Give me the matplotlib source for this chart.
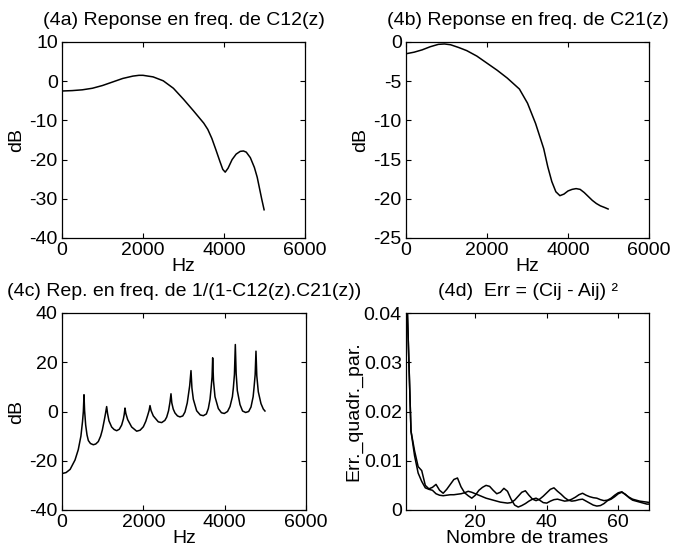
import matplotlib
matplotlib.use("Agg")
import matplotlib.pyplot as plt
import numpy as np

plt.rcParams['font.family'] = ['Liberation Sans', 'DejaVu Sans']
plt.rcParams['font.size'] = 14
plt.rcParams['axes.unicode_minus'] = False

# (4a) reponse en freq. de C12(z)
freq_a = [0, 250, 500, 750, 1000, 1250, 1500, 1750, 1900, 2000, 2250, 2500, 2750,
          3000, 3250, 3500, 3600, 3700, 3800, 3900, 3970, 4030, 4100, 4200, 4300,
          4400, 4480, 4550, 4650, 4750, 4820, 4880, 4930, 4990]
db_a = [-2.5, -2.4, -2.2, -1.8, -1.1, -0.2, 0.7, 1.3, 1.5, 1.5, 1.1, 0.1, -1.8,
        -4.6, -7.6, -10.7, -12.3, -14.6, -17.5, -20.5, -22.5, -23.2, -22.2, -20.0, -18.6,
        -17.9, -17.8, -18.1, -19.5, -22.0, -24.5, -27.5, -30.0, -32.8]

# (4b) reponse en freq. de C21(z)
freq_b = [0, 200, 400, 600, 800, 950, 1100, 1300, 1500, 1750, 2000, 2250, 2500,
          2800, 3000, 3200, 3400, 3500, 3600, 3700, 3800, 3900, 4000, 4100, 4200,
          4300, 4400, 4500, 4600, 4700, 4800, 4900, 4990]
db_b = [-1.5, -1.3, -1.0, -0.6, -0.3, -0.25, -0.35, -0.7, -1.1, -1.8, -2.7, -3.6, -4.6,
        -6.0, -7.8, -10.4, -13.6, -15.9, -17.8, -19.1, -19.6, -19.4, -19.0, -18.8, -18.7,
        -18.8, -19.2, -19.7, -20.2, -20.6, -20.9, -21.1, -21.3]

# (4c) rep. en freq. de 1/(1-C12(z).C21(z))
freq_c = [0, 100, 200, 320, 400, 465, 505, 525, 541, 555, 582, 615, 648, 700, 770,
          830, 893, 950, 992, 1040, 1070, 1098, 1120, 1155, 1221, 1280, 1344, 1410,
          1467, 1510, 1530, 1549, 1570, 1615, 1713, 1836, 1920, 2000, 2060, 2106,
          2140, 2164, 2190, 2245, 2368, 2451, 2530, 2574, 2620, 2655, 2680, 2700,
          2735, 2778, 2840, 2901, 2970, 3024, 3080, 3106, 3140, 3172, 3195, 3229,
          3311, 3400, 3475, 3550, 3598, 3640, 3664, 3690, 3705, 3725, 3762, 3844,
          3920, 3991, 4070, 4131, 4190, 4213, 4240, 4262, 4282, 4311, 4377, 4440,
          4516, 4590, 4647, 4700, 4721, 4750, 4770, 4790, 4827, 4893, 4950, 4991]
db_c = [-25.2, -24.8, -23.5, -19.7, -15.5, -10.0, -4.0, 0.0, 6.8, 0.5, -5.5, -9.5, -11.8, -13.0, -13.5,
        -13.2, -12.2, -10.0, -7.5, -3.5, -0.8, 2.0, -0.8, -3.8, -6.3, -7.3, -7.8, -7.2,
        -5.5, -3.0, -1.2, 1.4, -0.8, -3.3, -6.3, -8.0, -7.6, -6.2, -4.0, -1.6,
        0.3, 2.4, 0.4, -1.8, -4.2, -4.5, -3.6, -2.3, 0.3, 3.8, 7.2, 3.5,
        1.0, -0.6, -1.8, -2.2, -1.8, -0.2, 3.5, 6.5, 10.5, 16.6, 9.5, 5.0,
        0.3, -1.4, -1.7, -1.0, 1.2, 5.0, 9.0, 14.0, 21.8, 12.5, 6.0, 1.2,
        -0.5, -0.8, 0.0, 2.0, 6.0, 9.5, 15.0, 27.2, 15.5, 8.5, 2.8, 0.2,
        -0.4, 0.0, 1.8, 6.0, 9.5, 15.0, 24.5, 14.5, 8.0, 3.2, 1.0, 0.2]

# (4d) Err = (Cij - Aij)^2
trames = list(range(1, 70))
err_1 = [0.0400, 0.0160, 0.0120, 0.0088, 0.0080, 0.0050, 0.0043, 0.0046, 0.0052, 0.0040,
         0.0034, 0.0042, 0.0052, 0.0062, 0.0065, 0.0047, 0.0035, 0.0029, 0.0024, 0.0030,
         0.0040, 0.0046, 0.0050, 0.0048, 0.0040, 0.0033, 0.0036, 0.0044, 0.0038, 0.0022,
         0.0010, 0.0006, 0.0009, 0.0013, 0.0018, 0.0022, 0.0024, 0.0020, 0.0015, 0.0014,
         0.0018, 0.0021, 0.0022, 0.0020, 0.0018, 0.0019, 0.0022, 0.0026, 0.0031, 0.0034,
         0.0030, 0.0027, 0.0025, 0.0024, 0.0021, 0.0019, 0.0020, 0.0024, 0.0030, 0.0035,
         0.0037, 0.0031, 0.0026, 0.0022, 0.0020, 0.0018, 0.0017, 0.0016, 0.0015]
err_2 = [0.0400, 0.0160, 0.0110, 0.0075, 0.0058, 0.0045, 0.0042, 0.0040, 0.0033, 0.0030,
         0.0029, 0.0030, 0.0031, 0.0031, 0.0032, 0.0033, 0.0035, 0.0038, 0.0036, 0.0033,
         0.0030, 0.0027, 0.0024, 0.0022, 0.0020, 0.0018, 0.0016, 0.0015, 0.0014, 0.0015,
         0.0020, 0.0028, 0.0036, 0.0039, 0.0030, 0.0022, 0.0019, 0.0022, 0.0028, 0.0035,
         0.0042, 0.0045, 0.0038, 0.0032, 0.0025, 0.0020, 0.0018, 0.0019, 0.0021, 0.0022,
         0.0018, 0.0014, 0.0010, 0.0008, 0.0009, 0.0013, 0.0019, 0.0022, 0.0027, 0.0033,
         0.0036, 0.0032, 0.0025, 0.0020, 0.0018, 0.0016, 0.0014, 0.0012, 0.0012]

W, H = 688, 556
fig = plt.figure(figsize=(W / 100, H / 100), dpi=100)

def make_ax(left, top, right, bottom):
    ax = fig.add_axes([left / W, 1 - bottom / H, (right - left) / W, (bottom - top) / H])
    ax.tick_params(direction='in', top=True, right=True, length=3.5, width=0.8, pad=3)
    for s in ax.spines.values():
        s.set_linewidth(0.9)
    return ax

ax1 = make_ax(62, 42, 305, 238)
ax1.plot(freq_a, db_a, color='black', lw=1.1)
ax1.set_xlim(0, 6000)
ax1.set_ylim(-40, 10)
ax1.set_xticks([0, 2000, 4000, 6000])
ax1.set_yticks([-40, -30, -20, -10, 0, 10])
ax1.set_title('(4a) Reponse en freq. de C12(z)', fontsize=14, pad=12)
ax1.set_xlabel('Hz', labelpad=-1)
ax1.set_ylabel('dB', labelpad=3)

ax2 = make_ax(406, 42, 649, 238)
ax2.plot(freq_b, db_b, color='black', lw=1.1)
ax2.set_xlim(0, 6000)
ax2.set_ylim(-25, 0)
ax2.set_xticks([0, 2000, 4000, 6000])
ax2.set_yticks([-25, -20, -15, -10, -5, 0])
ax2.set_title('(4b) Reponse en freq. de C21(z)', fontsize=14, pad=12)
ax2.set_xlabel('Hz', labelpad=-1)
ax2.set_ylabel('dB', labelpad=3)

ax3 = make_ax(62, 313, 306, 510)
ax3.plot(freq_c, db_c, color='black', lw=1.1)
ax3.set_xlim(0, 6000)
ax3.set_ylim(-40, 40)
ax3.set_xticks([0, 2000, 4000, 6000])
ax3.set_yticks([-40, -20, 0, 20, 40])
ax3.set_title('(4c) Rep. en freq. de 1/(1-C12(z).C21(z))', fontsize=14, pad=12)
ax3.set_xlabel('Hz', labelpad=-1)
ax3.set_ylabel('dB', labelpad=3)

ax4 = make_ax(406, 313, 649, 510)
ax4.plot(trames, err_1, color='black', lw=1.1)
ax4.plot(trames, err_2, color='black', lw=1.1)
ax4.set_xlim(0.6, 68.6)
ax4.set_ylim(0, 0.04)
ax4.set_xticks([20, 40, 60])
ax4.set_yticks([0, 0.01, 0.02, 0.03, 0.04])
ax4.set_yticklabels(['0', '0.01', '0.02', '0.03', '0.04'])
ax4.set_title('(4d)  Err = (Cij - Aij) \u00b2', fontsize=14, pad=12)
ax4.set_xlabel('Nombre de trames', labelpad=-1)
ax4.set_ylabel('Err._quadr._par.', labelpad=1)

fig.savefig('out.png', dpi=100)
